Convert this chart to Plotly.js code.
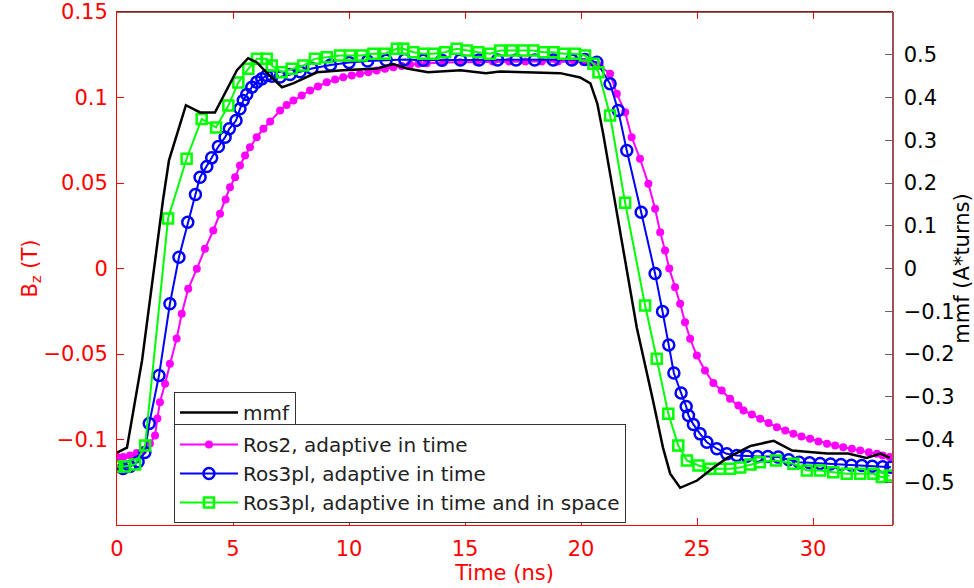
<!DOCTYPE html>
<html>
<head>
<meta charset="utf-8">
<script src="https://cdn.plot.ly/plotly-3.0.1.min.js"></script>
<style>
  html, body { margin: 0; padding: 0; background: #ffffff; }
  #chart { width: 974px; height: 588px; }
</style>
</head>
<body>
<div id="chart"></div>
<script>
// ---- data ----
var mmfTime = [0,0.43,1.08,1.98,2.24,2.97,3.58,4.22,5.17,5.65,6.03,6.47,7.11,7.59,8.62,9.74,11.2,11.9,12.5,13.4,14.8,15.9,16.5,17.7,19.1,19.96,20.4,20.7,20.95,21.25,21.55,21.98,22.4,23.1,23.53,23.84,24.27,25.0,25.7,26.3,27.3,28.3,29.1,30.6,31.5,32.3,32.9,33.3];
var mmfValues = [-0.431,-0.419,-0.215,0.159,0.253,0.382,0.365,0.365,0.464,0.492,0.482,0.457,0.424,0.433,0.459,0.464,0.468,0.478,0.468,0.459,0.464,0.457,0.461,0.459,0.457,0.447,0.433,0.386,0.316,0.222,0.129,-0.012,-0.138,-0.309,-0.419,-0.480,-0.513,-0.496,-0.466,-0.443,-0.415,-0.403,-0.426,-0.433,-0.433,-0.443,-0.433,-0.443];

var ros2Time = [0,0.27,0.56,0.85,1.13,1.42,1.64,1.74,1.85,2.07,2.28,2.57,2.79,3.07,3.44,3.79,4.15,4.44,4.68,4.87,5.09,5.3,5.52,5.73,6.02,6.31,6.6,7.03,7.31,7.6,7.96,8.32,8.66,9.04,9.4,9.75,10.12,10.47,10.83,11.19,11.55,11.91,12.27,12.63,12.99,13.35,14.07,14.78,15.5,16.2,16.9,17.6,18.3,19.0,19.7,20.1,20.4,20.8,21.25,21.54,21.9,22.18,22.54,22.9,23.19,23.41,23.62,23.8,24.05,24.27,24.48,24.7,24.99,25.34,25.7,26.06,26.42,26.78,27.0,27.36,27.72,28.08,28.44,28.8,29.15,29.5,29.87,30.23,30.6,30.95,31.3,31.67,32.03,32.4,32.75,33.0,33.3];
var ros2Bz = [-0.1103,-0.1103,-0.1094,-0.1079,-0.1064,-0.1023,-0.0977,-0.0877,-0.0782,-0.0674,-0.0557,-0.0409,-0.0265,-0.0119,-0.0002,0.0115,0.0222,0.032,0.0404,0.0475,0.0534,0.0602,0.0661,0.0709,0.0768,0.0817,0.086,0.0924,0.0956,0.0982,0.1012,0.1041,0.1064,0.1089,0.1105,0.1119,0.1129,0.1139,0.1148,0.1158,0.1168,0.1177,0.1184,0.1193,0.1197,0.12,0.1205,0.1206,0.1208,0.121,0.121,0.121,0.121,0.121,0.121,0.1208,0.1205,0.1187,0.1139,0.1022,0.0914,0.0768,0.0642,0.0495,0.0349,0.0212,0.0105,0.0,-0.0109,-0.0206,-0.0314,-0.0411,-0.0509,-0.0596,-0.067,-0.0713,-0.0762,-0.0801,-0.083,-0.0854,-0.0879,-0.0904,-0.0928,-0.0947,-0.0967,-0.0982,-0.0996,-0.1012,-0.1025,-0.1035,-0.1045,-0.1054,-0.1064,-0.1074,-0.1084,-0.1094,-0.1103];

var ros3Time = [0,0.26,0.56,0.91,1.2,1.39,1.81,2.28,2.67,3.05,3.38,3.58,3.87,4.08,4.37,4.66,4.84,5.13,5.3,5.44,5.59,5.81,6.02,6.24,6.45,6.68,7.03,7.46,7.89,8.4,9.2,10.0,10.8,11.6,12.4,13.2,14.0,14.8,15.6,16.4,17.2,18.0,18.8,19.6,20.17,20.68,21.25,21.6,21.97,22.59,23.19,23.51,23.78,24.0,24.31,24.53,24.63,24.84,25.13,25.42,25.85,26.28,26.71,27.15,27.6,28.05,28.5,28.95,29.4,29.85,30.3,30.75,31.2,31.65,32.1,32.55,33.0,33.35];
var ros3Bz = [-0.1158,-0.117,-0.1158,-0.113,-0.1076,-0.0906,-0.0626,-0.0206,0.0066,0.0271,0.0433,0.0534,0.0596,0.0647,0.0713,0.0768,0.0817,0.0865,0.0934,0.0982,0.1018,0.106,0.109,0.1109,0.1129,0.1125,0.112,0.1135,0.115,0.117,0.119,0.1205,0.1214,0.1218,0.1222,0.1218,0.1218,0.122,0.122,0.122,0.122,0.122,0.122,0.122,0.1222,0.1206,0.108,0.0924,0.069,0.0329,-0.0029,-0.0251,-0.0447,-0.0611,-0.0728,-0.0807,-0.086,-0.0912,-0.0967,-0.1016,-0.1054,-0.1084,-0.1094,-0.1098,-0.11,-0.11,-0.1103,-0.1118,-0.1133,-0.1136,-0.114,-0.1143,-0.1146,-0.115,-0.1152,-0.1156,-0.116,-0.1162];

var ros3sTime = [0,0.34,0.78,1.21,2.2,3.0,3.65,4.27,4.8,5.23,5.66,6.03,6.45,6.67,7.1,7.53,8.03,8.53,9.04,9.61,10.04,10.55,11.05,11.55,12.06,12.34,12.77,13.2,13.63,14.14,14.64,15.07,15.57,16.08,16.51,17.01,17.51,17.94,18.38,18.81,19.24,19.74,20.17,20.53,20.75,21.25,21.9,22.76,23.26,23.76,24.19,24.56,25.06,25.56,25.99,26.42,26.85,27.3,27.7,28.4,29.15,29.73,30.3,30.87,31.45,32.03,32.6,32.96,33.3];
var ros3sBz = [-0.1158,-0.1158,-0.1146,-0.1035,0.0292,0.0642,0.0875,0.0825,0.0953,0.1088,0.1168,0.1226,0.1226,0.1187,0.1148,0.1168,0.1187,0.1226,0.1236,0.1246,0.1246,0.1246,0.1256,0.1256,0.1285,0.1285,0.1265,0.1256,0.1256,0.1265,0.1285,0.1275,0.1265,0.1256,0.1275,0.1275,0.1275,0.1275,0.1265,0.1265,0.1256,0.1256,0.1246,0.1197,0.1148,0.0895,0.0384,-0.0216,-0.0528,-0.085,-0.1035,-0.1123,-0.1152,-0.1171,-0.1171,-0.1171,-0.1164,-0.1146,-0.1133,-0.1123,-0.1142,-0.1181,-0.1181,-0.1191,-0.12,-0.12,-0.12,-0.122,-0.121];

var seriesNames = ['mmf', 'Ros2, adaptive in time', 'Ros3pl, adaptive in time', 'Ros3pl, adaptive in time and in space'];

var xTickVals = [0, 5, 10, 15, 20, 25, 30];
var yTickVals = [-0.1, -0.05, 0, 0.05, 0.1, 0.15];
var yTickText = ['\u22120.1', '\u22120.05', '0', '0.05', '0.1', '0.15'];
var y2TickVals = [-0.5, -0.4, -0.3, -0.2, -0.1, 0, 0.1, 0.2, 0.3, 0.4, 0.5];
var y2TickText = ['\u22120.5', '\u22120.4', '\u22120.3', '\u22120.2', '\u22120.1', '0', '0.1', '0.2', '0.3', '0.4', '0.5'];

var FONT = 'DejaVu Sans, Arial, sans-serif';

var traces = [
  {
    x: ros2Time, y: ros2Bz, name: seriesNames[1], type: 'scatter', mode: 'lines+markers',
    line: {color: '#ff00ff', width: 2},
    marker: {symbol: 'circle', size: 8, color: '#ff00ff'},
    legend: 'legend2', xaxis: 'x', yaxis: 'y'
  },
  {
    x: ros3Time, y: ros3Bz, name: seriesNames[2], type: 'scatter', mode: 'lines+markers',
    line: {color: '#0000ff', width: 2},
    marker: {symbol: 'circle-open', size: 11, color: '#0000ff', line: {width: 2.5, color: '#0000ff'}},
    legend: 'legend2', xaxis: 'x', yaxis: 'y'
  },
  {
    x: ros3sTime, y: ros3sBz, name: seriesNames[3], type: 'scatter', mode: 'lines+markers',
    line: {color: '#00ff00', width: 2},
    marker: {symbol: 'square-open', size: 10, color: '#00ff00', line: {width: 2.5, color: '#00ff00'}},
    legend: 'legend2', xaxis: 'x', yaxis: 'y'
  },
  {
    x: mmfTime, y: mmfValues, name: seriesNames[0], type: 'scatter', mode: 'lines',
    line: {color: '#000000', width: 2.5},
    legend: 'legend', xaxis: 'x', yaxis: 'y2'
  }
];

var layout = {
  width: 974, height: 588,
  margin: {l: 117, r: 82, t: 12, b: 63, pad: 0},
  paper_bgcolor: '#ffffff', plot_bgcolor: '#ffffff',
  font: {family: FONT, size: 21, color: '#000000'},
  showlegend: true,
  xaxis: {
    range: [0, 33.4], tickvals: xTickVals, ticks: 'inside', ticklen: 7, tickcolor: '#ff0000',
    showline: true, linecolor: '#ff0000', linewidth: 1, mirror: 'ticks',
    showgrid: false, zeroline: false,
    tickfont: {family: FONT, size: 21, color: '#ff0000'},
    ticklabelstandoff: 5,
    title: {text: 'Time (ns)', font: {family: FONT, size: 21, color: '#ff0000'}, standoff: 1}
  },
  yaxis: {
    range: [-0.15, 0.15], tickvals: yTickVals, ticktext: yTickText, ticks: 'inside', ticklen: 7,
    tickcolor: '#ff0000', showline: true, linecolor: '#ff0000', linewidth: 1, mirror: 'ticks',
    showgrid: false, zeroline: false,
    tickfont: {family: FONT, size: 21, color: '#ff0000'},
    ticklabelstandoff: 4,
    title: {text: 'B<sub>z</sub> (T)', font: {family: FONT, size: 21, color: '#ff0000'}, standoff: 0}
  },
  yaxis2: {
    range: [-0.6, 0.6], overlaying: 'y', side: 'right', tickvals: y2TickVals, ticktext: y2TickText,
    ticks: 'inside', ticklen: 7, tickcolor: '#666666',
    showline: true, linecolor: '#a05252', linewidth: 1.5,
    showgrid: false, zeroline: false,
    tickfont: {family: FONT, size: 21, color: '#000000'},
    ticklabelstandoff: 6,
    title: {text: 'mmf (A*turns)', font: {family: FONT, size: 21, color: '#000000'}, standoff: 10}
  },
  legend: {
    x: 0.0735, y: 0.2593, xanchor: 'left', yanchor: 'top',
    bgcolor: '#ffffff', bordercolor: '#333333', borderwidth: 1,
    font: {family: FONT, size: 20, color: '#222222'}, itemwidth: 58
  },
  legend2: {
    x: 0.0735, y: 0.1969, xanchor: 'left', yanchor: 'top',
    bgcolor: '#ffffff', bordercolor: '#333333', borderwidth: 1,
    font: {family: FONT, size: 20, color: '#222222'}, itemwidth: 58
  },
  shapes: [
    {type: 'line', xref: 'paper', yref: 'paper', x0: 0, x1: 1, y0: 1, y1: 1,
     line: {color: '#6a2a2a', width: 1.5}}
  ]
};

Plotly.newPlot('chart', traces, layout, {displayModeBar: false, staticPlot: true});
</script>
</body>
</html>
